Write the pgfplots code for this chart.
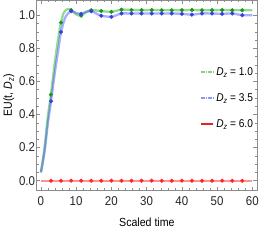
\documentclass[border=0pt]{standalone}
\usepackage{fontspec}
\setmainfont{Liberation Sans}[FakeStretch=0.9]
\usepackage{pgfplots}
\pgfplotsset{compat=1.18}
\definecolor{cg}{rgb}{0.15,0.72,0.15}
\definecolor{cb}{rgb}{0.25,0.3,1.0}
\definecolor{cr}{rgb}{1.0,0.15,0.15}
\definecolor{fr}{gray}{0.55}
\begin{document}
\begin{tikzpicture}
\begin{axis}[
  scale only axis, width=225pt, height=194pt,
  xmin=-1.25, xmax=61.4, ymin=-0.06, ymax=1.09,
  axis line style={fr, line width=0.5pt},
  tick style={fr, line width=0.4pt},
  major tick length=4pt, minor tick length=2.2pt,
  tick align=inside,
  xtick={0,10,...,60}, minor x tick num=4,
  ytick={0,0.2,...,1.0}, minor y tick num=3,
  yticklabel style={/pgf/number format/fixed,/pgf/number format/fixed zerofill,/pgf/number format/precision=1, xshift=2pt},
  xticklabel style={yshift=-3pt},
  /pgf/number format/assume math mode=true,
  tick label style={font=\fontsize{13}{15}\selectfont, text=black!85},
  xlabel={Scaled time}, ylabel={EU(t, \textit{D}\raisebox{-0.35ex}{\fontsize{8.5}{9}\selectfont\textit{z}})},
  label style={font=\fontsize{12}{14}\selectfont},
  xlabel style={yshift=-5pt},
  ylabel style={yshift=-2pt},
  legend style={draw=none, fill=none, at={(0.99,0.485)}, anchor=east,
    font=\fontsize{11.5}{13}\selectfont, row sep=13pt, inner sep=0pt},
  legend cell align=left,
]
% green D_z = 1.0
\addplot[cg, line width=2.4pt, opacity=0.5, smooth, forget plot] coordinates {
(0,0.05)(1,0.19)(2,0.39)(2.857,0.52)(4,0.72)(5,0.87)(5.714,0.955)(6.5,1.015)(7.5,1.036)(8.571,1.03)(10,1.005)(11.43,0.997)(12.9,1.02)(14.29,1.03)(17.14,1.025)(20,1.02)(22.86,1.033)(25.71,1.031)(28.57,1.03)(31.43,1.031)(34.29,1.03)(37.14,1.03)(40,1.03)(42.86,1.031)(45.71,1.03)(48.57,1.03)(51.43,1.031)(54.29,1.03)(57.14,1.03)(60,1.03)};
\addplot[cg!80!black, only marks, mark=*, mark size=1.9pt, forget plot] coordinates {
(2.857,0.52)(5.714,0.955)(8.571,1.03)(11.43,0.997)(14.29,1.03)(17.14,1.025)(20,1.02)(22.86,1.033)(25.71,1.031)(28.57,1.03)(31.43,1.031)(34.29,1.03)(37.14,1.03)(40,1.03)(42.86,1.031)(45.71,1.03)(48.57,1.03)(51.43,1.031)(54.29,1.03)(57.14,1.03)};
% blue D_z = 3.5
\addplot[cb, line width=2.4pt, opacity=0.45, smooth, forget plot] coordinates {
(0,0.05)(1,0.17)(2,0.35)(2.857,0.48)(4,0.66)(5,0.80)(5.714,0.898)(7,0.99)(8.571,1.024)(10,1.013)(11.43,1.008)(12.9,1.02)(14.29,1.024)(15.7,1.01)(17.14,0.996)(20,0.99)(21.5,1.0)(22.86,1.01)(25.71,1.01)(28.57,1.01)(31.43,1.01)(34.29,1.01)(37.14,1.01)(40,1.008)(42.86,1.003)(45.71,1.01)(48.57,1.01)(51.43,1.008)(54.29,1.01)(57.14,1.0)(60,1.0)};
\addplot[cb!85!black, only marks, mark=*, mark size=1.9pt, forget plot] coordinates {
(2.857,0.48)(5.714,0.898)(8.571,1.024)(11.43,1.008)(14.29,1.024)(17.14,0.996)(20,0.99)(22.86,1.01)(25.71,1.01)(28.57,1.01)(31.43,1.01)(34.29,1.01)(37.14,1.01)(40,1.008)(42.86,1.003)(45.71,1.01)(48.57,1.01)(51.43,1.008)(54.29,1.01)(57.14,1.0)};
% red D_z = 6.0
\addplot[cr, line width=2.4pt, opacity=0.5, forget plot] coordinates {(0,0)(60,0)};
\addplot[cr, only marks, mark=*, mark size=1.9pt, forget plot] coordinates {
(2.857,0)(5.714,0)(8.571,0)(11.43,0)(14.29,0)(17.14,0)(20,0)(22.86,0)(25.71,0)(28.57,0)(31.43,0)(34.29,0)(37.14,0)(40,0)(42.86,0)(45.71,0)(48.57,0)(51.43,0)(54.29,0)(57.14,0)};
\addlegendimage{legend image code/.code={\draw[cg, line width=2pt, opacity=0.6, dash pattern=on 1.2pt off 0.6pt] (0,0)--(13pt,0);}}
\addlegendentry{\textit{D}\raisebox{-0.35ex}{\fontsize{8}{9}\selectfont\textit{z}} = 1.0}
\addlegendimage{legend image code/.code={\draw[cb, line width=2pt, opacity=0.6, dash pattern=on 1.2pt off 0.6pt] (0,0)--(13pt,0);}}
\addlegendentry{\textit{D}\raisebox{-0.35ex}{\fontsize{8}{9}\selectfont\textit{z}} = 3.5}
\addlegendimage{legend image code/.code={\draw[cr!90!black, line width=2pt] (0,0)--(13pt,0);}}
\addlegendentry{\textit{D}\raisebox{-0.35ex}{\fontsize{8}{9}\selectfont\textit{z}} = 6.0}
\end{axis}
\end{tikzpicture}
\end{document}
